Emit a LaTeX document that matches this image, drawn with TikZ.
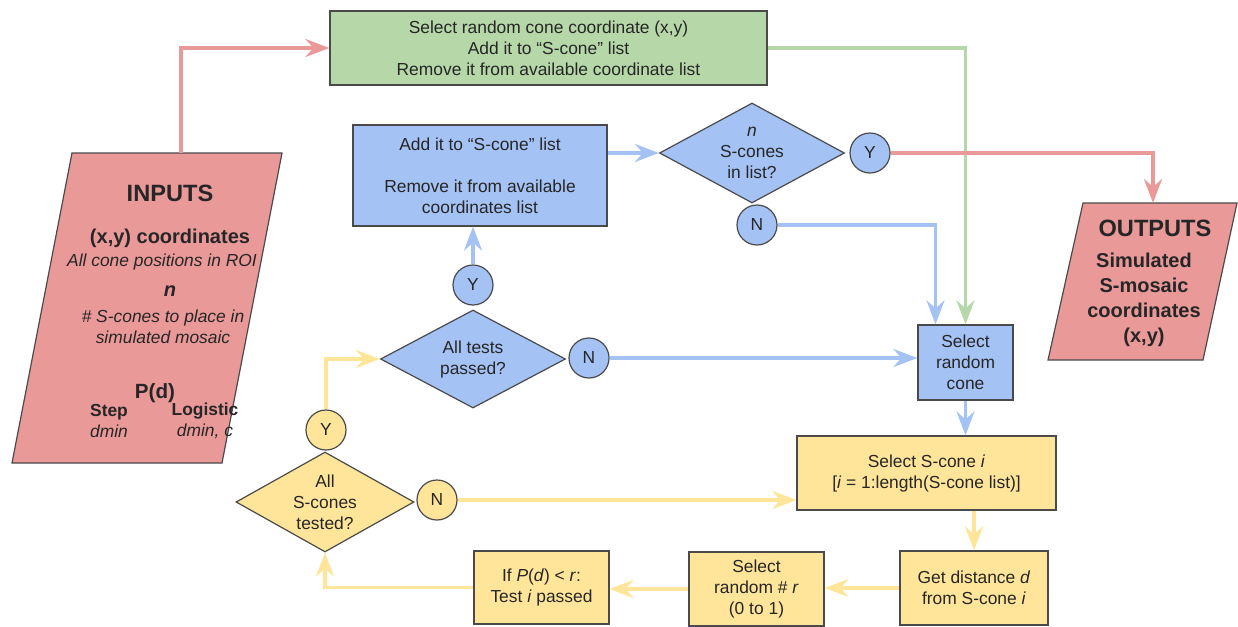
\documentclass[tikz,border=0pt]{standalone}
\usepackage{fontspec}
\setmainfont{Liberation Sans}
\usetikzlibrary{arrows.meta,positioning,calc,shapes.geometric}
\definecolor{inred}{HTML}{EA9999}
\definecolor{ingreen}{HTML}{B6D7A8}
\definecolor{inblue}{HTML}{A4C2F4}
\definecolor{inyellow}{HTML}{FFE599}
\definecolor{edgegray}{HTML}{4A4A4A}
\newcommand{\bodyfs}{\fontsize{8.7}{10.5}\selectfont}
\newcommand{\headfs}{\fontsize{11.8}{14}\selectfont\bfseries}
\newcommand{\midfs}{\fontsize{10}{12.5}\selectfont\bfseries}

\begin{document}
\begin{tikzpicture}[x=0.5pt,y=-0.5pt,
  every node/.style={font=\bodyfs, text=black!85},
  box/.style={rectangle, draw=edgegray, line width=0.6pt, align=center, inner sep=2pt},
  dec/.style={diamond, draw=edgegray, line width=0.6pt, align=center, inner sep=0pt, aspect=1.85},
  yn/.style={circle, draw=edgegray, line width=0.6pt, minimum size=20pt, inner sep=0pt},
  io/.style={draw=edgegray, line width=0.6pt, fill=inred, line join=miter},
  flow/.style={line width=1.7pt, -{Stealth[length=12pt,width=9pt,inset=4pt]}}]
  \useasboundingbox (0,0) rectangle (1238,627);

  \filldraw[io] (72,153) -- (282,153) -- (222,463) -- (12,463) -- cycle;
  \coordinate (intop) at (181,153);
  \node[font=\headfs] (inhead) at (170,193) {INPUTS};
  \node[font=\midfs] (inxy) at (170,238) {(x,y) coordinates};
  \node[font=\bodyfs\itshape] (inall) at (162,262) {All cone positions in ROI};
  \node[font=\midfs\itshape] (inn) at (170,291) {n};
  \node[font=\bodyfs\itshape, align=center] (insc) at (163,327) {\# S-cones to place in\\simulated mosaic};
  \node[font=\fontsize{10.3}{12}\selectfont\bfseries] (inpd) at (155,393) {P(d)};
  \node[align=center] (instep) at (109,421) {\textbf{Step}\\\textit{dmin}};
  \node[align=center] (inlog) at (205,421) {\textbf{Logistic}\\\textit{dmin, c}};

  \filldraw[io] (1083,203) -- (1237,203) -- (1203,360) -- (1048,360) -- cycle;
  \coordinate (outtop) at (1153,203);
  \node[font=\headfs] (outhead) at (1155,228) {OUTPUTS};
  \node[font=\midfs, align=center] (outtext) at (1144,300) {Simulated\\S-mosaic\\coordinates\\(x,y)};

  \node[box, fill=ingreen, minimum width=218.5pt, minimum height=37pt] (pick) at (548.5,48)
    {Select random cone coordinate (x,y)\\Add it to “S-cone” list\\Remove it from available coordinate list};
  \node[box, fill=inblue, minimum width=127pt, minimum height=50.5pt] (addlist) at (480,175.5)
    {Add it to “S-cone” list\\[10.5pt]Remove it from available\\coordinates list};
  \node[dec, fill=inblue, minimum width=92.5pt, minimum height=50pt] (enough) at (752,153)
    {\textit{n}\\S-cones\\in list?};
  \node[yn, fill=inblue] (enoughY) at (870,153) {Y};
  \node[yn, fill=inblue] (enoughN) at (757,225) {N};
  \node[box, fill=inblue, minimum width=47.5pt, minimum height=37.5pt] (pickcone) at (965.5,362.5)
    {Select\\random\\cone};
  \node[dec, fill=inblue, minimum width=92.5pt, minimum height=49pt] (passed) at (473,359)
    {All tests\\passed?};
  \node[yn, fill=inblue] (passedY) at (473,285) {Y};
  \node[yn, fill=inblue] (passedN) at (589,358) {N};

  \node[box, fill=inyellow, minimum width=129.5pt, minimum height=37pt] (pickS) at (926.5,473)
    {Select S-cone \textit{i}\\{}[\textit{i} = 1:length(S-cone list)]};
  \node[dec, fill=inyellow, minimum width=89pt, minimum height=50pt] (tested) at (325,502)
    {All\\S-cones\\tested?};
  \node[yn, fill=inyellow] (testedY) at (326,430) {Y};
  \node[yn, fill=inyellow] (testedN) at (437,500) {N};
  \node[box, fill=inyellow, minimum width=74pt, minimum height=37pt] (dist) at (974,588)
    {Get distance \textit{d}\\from S-cone \textit{i}};
  \node[box, fill=inyellow, minimum width=67.5pt, minimum height=37pt] (randr) at (756.5,589)
    {Select\\random \# \textit{r}\\(0 to 1)};
  \node[box, fill=inyellow, minimum width=67.5pt, minimum height=36.5pt] (testi) at (541.5,587.5)
    {If \textit{P}(\textit{d}) < \textit{r}:\\Test \textit{i} passed};

  \draw[flow, inred] (intop) |- (pick.west);
  \draw[flow, ingreen] (pick.east) -| (pickcone.north);
  \draw[flow, inblue] (addlist.east |- enough.west) -- (enough.west);
  \draw[flow, inred] (enoughY.east) -| (outtop);
  \draw[flow, inblue] (enoughN.east) -| ([xshift=-15pt]pickcone.north);
  \draw[flow, inblue] (passedY.north) -- (passedY.north |- addlist.south);
  \draw[flow, inblue] (passedN.east) -- (passedN.east -| pickcone.west);
  \draw[flow, inblue] (pickcone.south) -- (pickcone.south |- pickS.north);
  \draw[flow, inyellow] (testedY.north) |- (passed.west);
  \draw[flow, inyellow] (testedN.east) -- (testedN.east -| pickS.west);
  \draw[flow, inyellow] (dist.north |- pickS.south) -- (dist.north);
  \draw[flow, inyellow] (dist.west) -- (dist.west -| randr.east);
  \draw[flow, inyellow] (randr.west) -- (randr.west -| testi.east);
  \draw[flow, inyellow] (testi.west) -| (tested.south);
\end{tikzpicture}
\end{document}
